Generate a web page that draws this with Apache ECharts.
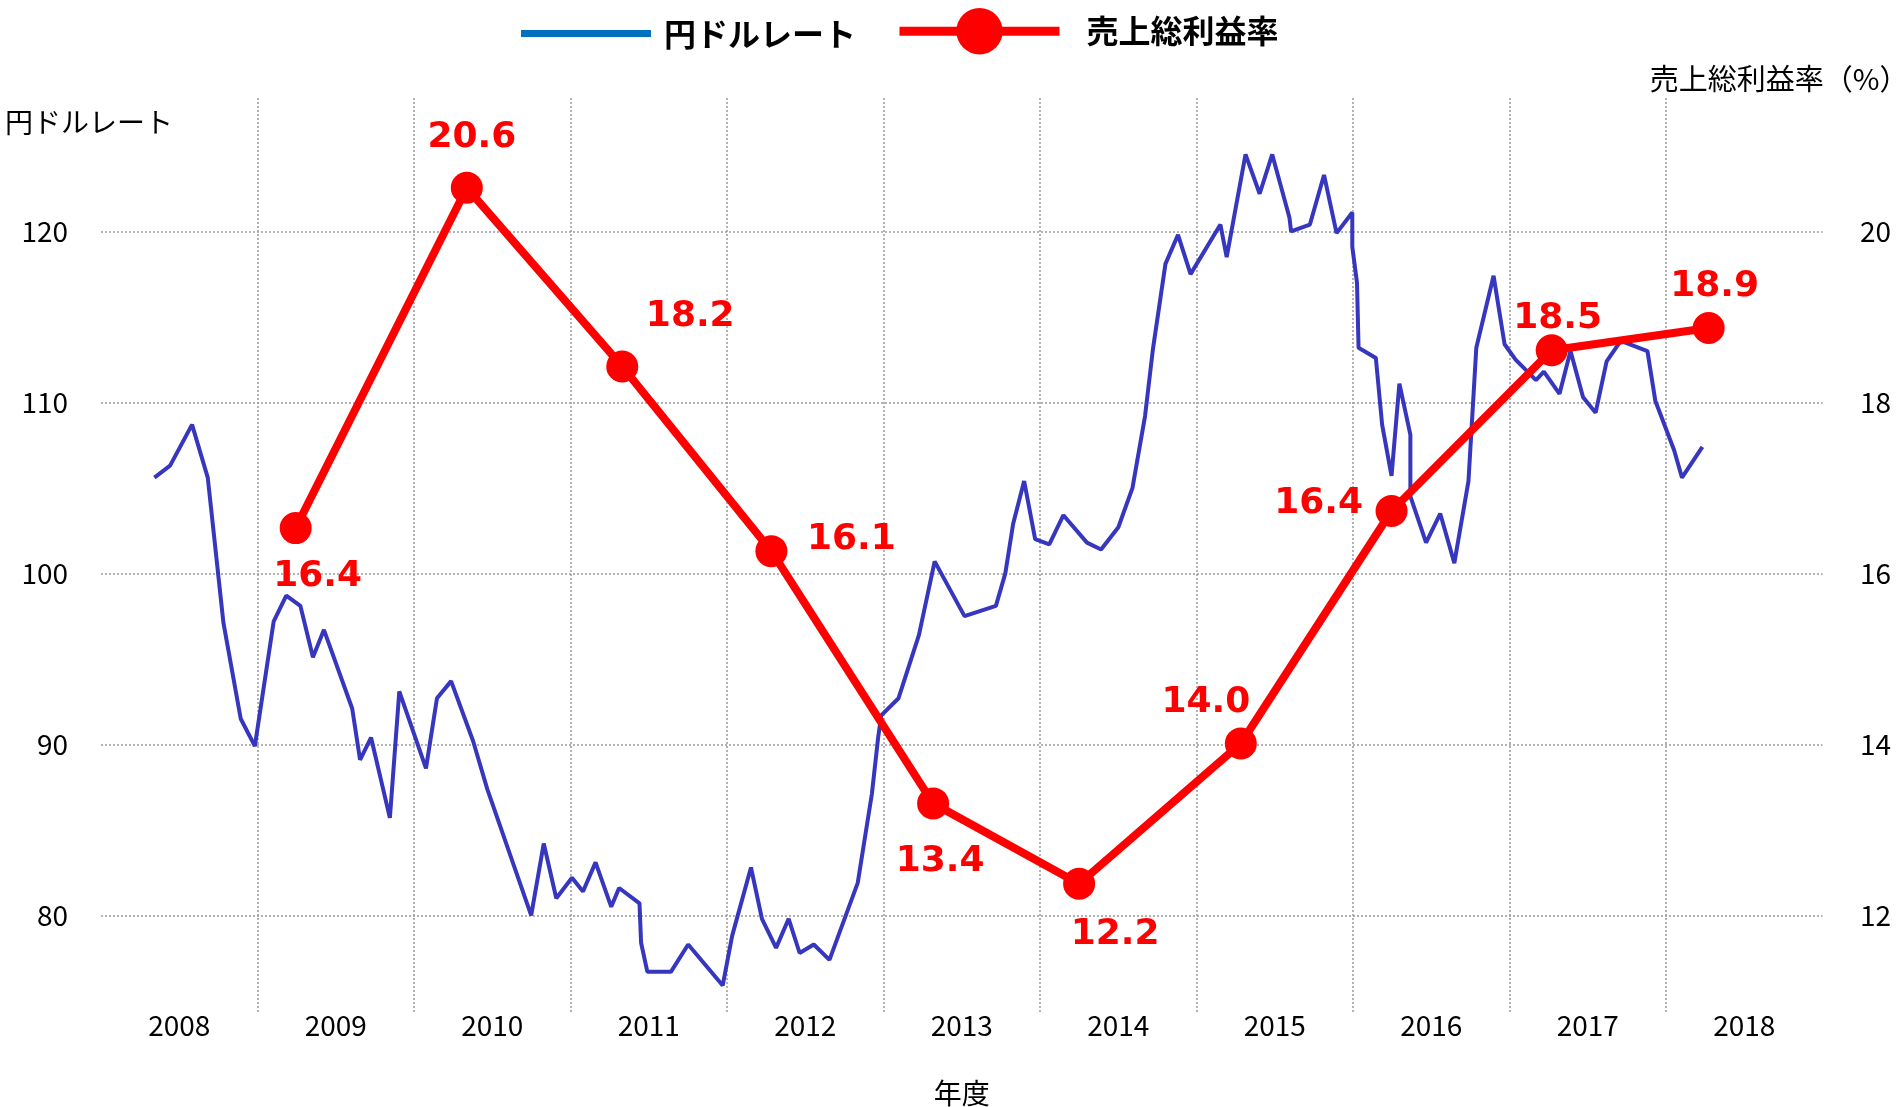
<!DOCTYPE html>
<html>
<head>
<meta charset="utf-8">
<title>円ドルレートと売上総利益率</title>
<script src="https://cdn.jsdelivr.net/npm/echarts@6/dist/echarts.min.js"></script>
<style>
    html, body { margin: 0; padding: 0; background: #fff; }
    #chart { width: 1901px; height: 1107px; }
</style>
</head>
<body>
<div id="chart"></div>
<script>
    // 年度（横軸のカテゴリ）
    var years = ['2008', '2009', '2010', '2011', '2012', '2013', '2014', '2015', '2016', '2017', '2018'];

    // 円ドルレート：横位置は年（小数）、縦は円
    var rateX = [2008.34, 2008.44, 2008.58, 2008.68, 2008.78, 2008.89, 2008.98, 2009.10, 2009.18, 2009.27,
        2009.35, 2009.42, 2009.60, 2009.65, 2009.72, 2009.84, 2009.90, 2010.07, 2010.14, 2010.23,
        2010.37, 2010.46, 2010.74, 2010.82, 2010.90, 2011.00, 2011.07, 2011.15, 2011.25, 2011.30,
        2011.43, 2011.44, 2011.48, 2011.63, 2011.74, 2011.96, 2012.02, 2012.14, 2012.21, 2012.30,
        2012.38, 2012.45, 2012.54, 2012.64, 2012.82, 2012.91, 2012.95, 2012.97, 2013.08, 2013.21,
        2013.31, 2013.50, 2013.70, 2013.76, 2013.81, 2013.88, 2013.95, 2014.04, 2014.13, 2014.28,
        2014.37, 2014.48, 2014.57, 2014.65, 2014.70, 2014.78, 2014.86, 2014.94, 2015.13, 2015.17,
        2015.29, 2015.38, 2015.46, 2015.57, 2015.58, 2015.70, 2015.79, 2015.87, 2015.97, 2015.97,
        2016.00, 2016.01, 2016.12, 2016.16, 2016.22, 2016.27, 2016.34, 2016.34, 2016.44, 2016.53,
        2016.62, 2016.71, 2016.76, 2016.87, 2016.94, 2017.01, 2017.14, 2017.19, 2017.29, 2017.36,
        2017.44, 2017.52, 2017.59, 2017.68, 2017.85, 2017.90, 2018.02, 2018.07, 2018.20];
    var rateY = [105.6, 106.3, 108.7, 105.6, 97.1, 91.5, 89.9, 97.2, 98.7, 98.1,
        95.1, 96.7, 92.1, 89.1, 90.4, 85.7, 93.1, 88.6, 92.7, 93.7,
        90.2, 87.4, 80.0, 84.2, 81.0, 82.2, 81.4, 83.1, 80.5, 81.6,
        80.7, 78.4, 76.7, 76.7, 78.3, 75.9, 78.8, 82.8, 79.8, 78.1,
        79.8, 77.8, 78.3, 77.4, 81.9, 87.1, 90.4, 91.7, 92.7, 96.4,
        100.7, 97.5, 98.1, 100.0, 102.9, 105.4, 102.0, 101.7, 103.4, 101.8,
        101.4, 102.7, 105.0, 109.2, 113.1, 118.1, 119.8, 117.5, 120.4, 118.5,
        124.5, 122.2, 124.5, 120.8, 120.0, 120.4, 123.3, 119.9, 121.1, 119.1,
        117.0, 113.2, 112.6, 108.7, 105.7, 111.1, 108.1, 104.5, 101.8, 103.5,
        100.6, 105.4, 113.2, 117.4, 113.4, 112.5, 111.3, 111.8, 110.5, 113.0,
        110.3, 109.4, 112.4, 113.6, 113.0, 110.1, 107.2, 105.6, 107.4];

    // 売上総利益率（%）
    var marginX = [2009.24, 2010.33, 2011.32, 2012.27, 2013.30, 2014.23, 2015.26, 2016.22, 2017.24, 2018.24];
    var marginY = [16.53, 20.51, 18.42, 16.26, 13.31, 12.37, 14.01, 16.73, 18.61, 18.87];
    var marginLabels = ['16.4', '20.6', '18.2', '16.1', '13.4', '12.2', '14.0', '16.4', '18.5', '18.9'];

    var jpFont = '"Noto Sans CJK JP", "Noto Sans", sans-serif';
    var gridLine = { color: '#9a9a9a', width: 1.5, type: [2, 2] };

    // ラベルの位置（マーカー中心からのずれ）
    var labelOffset = [[22, 49], [5, -50], [68, -50], [80, -12], [7, 58], [36, 51], [-35, -41], [-73, -7], [6, -32], [6, -41]];

    var rateData = rateX.map(function (x, i) { return [x, rateY[i]]; });
    var marginData = marginX.map(function (x, i) {
        return { value: [x, marginY[i]], label: { offset: labelOffset[i] } };
    });

    var legendText = { fontSize: 32, fontWeight: 'bold', color: '#000', fontFamily: jpFont };

    var option = {
        animation: false,
        backgroundColor: '#fff',
        legend: [
            {
                data: [{ name: '円ドルレート', icon: 'rect', itemStyle: { color: '#0070C0' } }],
                left: 521, top: 17.5, padding: 0,
                itemWidth: 130, itemHeight: 7,
                selectedMode: false,
                textStyle: Object.assign({ padding: [0, 0, 0, 8] }, legendText)
            },
            {
                data: ['売上総利益率'],
                left: 895, top: 8, padding: 0,
                itemWidth: 160, itemHeight: 58,
                selectedMode: false,
                lineStyle: { width: 9 },
                textStyle: Object.assign({ padding: [0, 0, 0, 22] }, legendText)
            }
        ],
        grid: { left: 101, right: 78.5, top: 98, bottom: 95, outerBoundsMode: 'none' },
        xAxis: [
            {
                type: 'category',
                data: years,
                boundaryGap: true,
                name: '年度',
                nameLocation: 'middle',
                nameGap: 67,
                nameTextStyle: { fontSize: 28, color: '#000', fontFamily: jpFont },
                axisLine: { show: false },
                axisTick: { show: false },
                axisLabel: { fontSize: 28, color: '#000', margin: -1, fontFamily: jpFont },
                splitLine: { show: true, interval: 0, showMinLine: false, showMaxLine: false, lineStyle: gridLine }
            },
            {
                // 時系列用の横軸（年単位）
                type: 'value',
                min: 2008,
                max: 2018.965,
                show: false
            }
        ],
        yAxis: [
            {
                type: 'value',
                position: 'left',
                min: 74.35,
                max: 127.8,
                name: '円ドルレート',
                nameLocation: 'end',
                nameGap: -24,
                nameTextStyle: { fontSize: 28, color: '#000', fontFamily: jpFont, align: 'left', verticalAlign: 'middle', padding: [0, 0, 0, -96] },
                axisLine: { show: false },
                axisTick: { show: false },
                axisLabel: { fontSize: 28, color: '#000', margin: 33, fontFamily: jpFont, showMinLabel: false, showMaxLabel: false },
                splitLine: { show: true, showMinLine: false, showMaxLine: false, lineStyle: gridLine }
            },
            {
                type: 'value',
                position: 'right',
                min: 10.87,
                max: 21.56,
                name: '売上総利益率（%）',
                nameLocation: 'end',
                nameGap: 19,
                nameTextStyle: { fontSize: 29, color: '#000', fontFamily: jpFont, align: 'right', verticalAlign: 'middle', padding: [0, -86, 0, 0] },
                axisLine: { show: false },
                axisTick: { show: false },
                axisLabel: { fontSize: 28, color: '#000', margin: 37.5, fontFamily: jpFont, showMinLabel: false, showMaxLabel: false },
                splitLine: { show: false }
            }
        ],
        series: [
            {
                name: '円ドルレート',
                type: 'line',
                xAxisIndex: 1,
                yAxisIndex: 0,
                data: rateData,
                symbol: 'none',
                color: '#3636BE',
                lineStyle: { color: '#3636BE', width: 4 }
            },
            {
                name: '売上総利益率',
                type: 'line',
                xAxisIndex: 1,
                yAxisIndex: 1,
                data: marginData,
                symbol: 'circle',
                symbolSize: 32,
                color: '#FF0000',
                itemStyle: { color: '#FF0000' },
                lineStyle: { color: '#FF0000', width: 8 },
                label: {
                    show: true,
                    position: 'inside',
                    fontFamily: '"DejaVu Sans", sans-serif',
                    fontWeight: 'bold',
                    fontSize: 36,
                    color: '#FF0000',
                    formatter: function (p) { return marginLabels[p.dataIndex]; }
                }
            }
        ]
    };

    var chart = echarts.init(document.getElementById('chart'));
    chart.setOption(option);
</script>
</body>
</html>
